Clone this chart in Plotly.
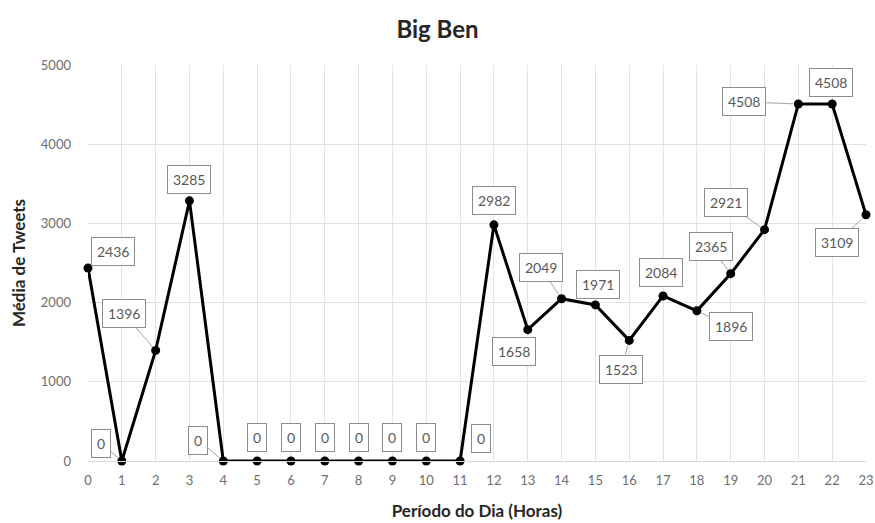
import plotly.graph_objects as go

# Average tweets per hour of the day
hours = list(range(24))
tweets = [2436, 0, 1396, 3285, 0, 0, 0, 0, 0, 0, 0, 0,
          2982, 1658, 2049, 1971, 1523, 2084, 1896, 2365, 2921, 4508, 4508, 3109]

# Label offsets (px) from each point, and whether a leader line is drawn
label_dx = [25, -21, -32, 0, -25, 0, 0, 0, 0, 0, 0, 21,
            0, -14, -21, 3, -8, -2, 34, -20, -39, -54, -1, -29]
label_dy = [-17, -18, -37, -21, -21, -24, -24, -24, -24, -24, -24, -23,
            -24, 22, -31, -20, 29, -23, 16, -27, -27, -2, -21, 28]
leader = [False, True, True, False, True, False, False, False, False, False, False, False,
          False, False, True, False, True, False, True, True, True, True, False, True]

FONT = "Lato, 'Open Sans', sans-serif"

fig = go.Figure()
fig.add_trace(go.Scatter(
    x=hours, y=tweets, mode="lines+markers",
    line=dict(color="black", width=3),
    marker=dict(color="black", size=9),
    cliponaxis=False,
    showlegend=False, hoverinfo="skip",
))

for h, v, dx, dy, ld in zip(hours, tweets, label_dx, label_dy, leader):
    common = dict(
        x=h, y=v, text=str(v),
        font=dict(family=FONT, size=14, color="#595959"),
        bgcolor="white", bordercolor="#8c8c8c", borderwidth=1, borderpad=5,
    )
    if ld:
        fig.add_annotation(**common, showarrow=True, ax=dx, ay=dy,
                           arrowhead=0, arrowwidth=1, arrowcolor="#a6a6a6",
                           standoff=5)
    else:
        fig.add_annotation(**common, showarrow=False, xshift=dx, yshift=-dy)

fig.update_layout(
    width=875, height=523,
    margin=dict(l=88, r=9, t=65, b=62),
    paper_bgcolor="white", plot_bgcolor="white",
    title=dict(text="<b>Big Ben</b>", x=0.5, xanchor="center", y=0.943, yanchor="middle",
               font=dict(family=FONT, size=24, color="#262626")),
    font=dict(family=FONT, color="#595959"),
)
fig.update_xaxes(
    range=[0, 23], tickmode="array", tickvals=hours, ticktext=[str(h) for h in hours],
    showgrid=True, gridcolor="#e3e3e3", gridwidth=1, zeroline=False,
    showline=True, linecolor="#d9d9d9", ticks="", ticklabelstandoff=7,
    ticklabeloverflow="allow", automargin=False,
    tickfont=dict(family=FONT, size=13, color="#6e6e6e"),
    title=dict(text="<b>Período do Dia (Horas)</b>", standoff=18,
               font=dict(family=FONT, size=17, color="#262626")),
)
fig.update_yaxes(
    range=[0, 5000], tickvals=[0, 1000, 2000, 3000, 4000, 5000],
    showgrid=True, gridcolor="#e3e3e3", gridwidth=1, zeroline=False,
    showline=False, ticks="", ticklabelstandoff=16, automargin=False,
    tickfont=dict(family=FONT, size=13, color="#6e6e6e"),
    title=dict(text="<b>Média de Tweets</b>", standoff=10,
               font=dict(family=FONT, size=17, color="#262626")),
)

fig.write_html("out.html")
